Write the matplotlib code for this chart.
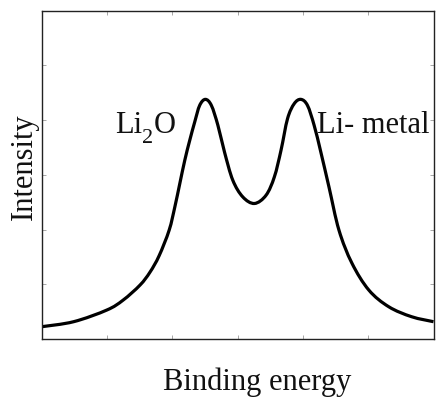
import matplotlib
matplotlib.use("Agg")
import matplotlib.pyplot as plt
from matplotlib.path import Path
from matplotlib.patches import PathPatch

# (arbitrary units; axes span 0..6 in both directions)
binding_energy = [0.00, 0.492, 1.000, 1.249, 1.508, 1.660, 1.800, 1.954, 2.041, 2.117,
                  2.193, 2.269, 2.345, 2.421, 2.508, 2.600, 2.700, 2.802, 2.928, 3.081,
                  3.259, 3.437, 3.564, 3.666, 3.766, 3.868, 3.970, 4.071, 4.173, 4.275,
                  4.401, 4.553, 4.751, 5.010, 5.315, 5.665, 6.000]
intensity = [0.224, 0.316, 0.529, 0.710, 0.985, 1.220, 1.520, 1.988, 2.413, 2.840,
             3.264, 3.629, 3.963, 4.267, 4.377, 4.267, 3.903, 3.410, 2.900, 2.595,
             2.475, 2.626, 2.960, 3.447, 4.025, 4.298, 4.377, 4.267, 3.903, 3.416,
             2.772, 1.988, 1.386, 0.894, 0.589, 0.407, 0.316]
tick_positions = [1, 2, 3, 4, 5]
label_x = [1.13, 4.22]
label_y = [3.76, 3.76]

plt.rcParams["font.family"] = ["Liberation Serif", "DejaVu Serif"]

fig = plt.figure(figsize=(4.36, 3.97), dpi=100)
ax = fig.add_axes([41.5 / 436, (397 - 339) / 397, (433.5 - 41.5) / 436, (339 - 10.5) / 397])
ax.set_xlim(0, 6)
ax.set_ylim(0, 6)

# smooth line through the read points (Catmull-Rom as cubic Bezier segments)
pts = list(zip(binding_energy, intensity))
verts = [pts[0]]
codes = [Path.MOVETO]
n = len(pts)
for i in range(n - 1):
    p0 = pts[i - 1] if i > 0 else pts[i]
    p1 = pts[i]
    p2 = pts[i + 1]
    p3 = pts[i + 2] if i + 2 < n else pts[i + 1]
    c1 = (p1[0] + (p2[0] - p0[0]) / 6, p1[1] + (p2[1] - p0[1]) / 6)
    c2 = (p2[0] - (p3[0] - p1[0]) / 6, p2[1] - (p3[1] - p1[1]) / 6)
    verts += [c1, c2, p2]
    codes += [Path.CURVE4] * 3
ax.add_patch(PathPatch(Path(verts, codes), facecolor="none", edgecolor="black",
                       lw=2.3, capstyle="butt", joinstyle="round"))

ax.set_xticks(tick_positions)
ax.set_yticks(tick_positions)
ax.set_xticklabels([])
ax.set_yticklabels([])
ax.tick_params(direction="in", length=3, width=0.6, color="#999999",
               top=True, right=True, bottom=True, left=True)
for s in ax.spines.values():
    s.set_linewidth(1.0)
    s.set_color("#222222")

fs = 22
tc = "#111111"
# "Li2O" with a lowered subscript, built from pieces
renderer = fig.canvas.get_renderer()
inv = fig.transFigure.inverted()
t1 = ax.text(label_x[0], label_y[0], "Li", fontsize=fs, ha="left", va="baseline", color=tc)
bb = t1.get_window_extent(renderer)
y_disp = ax.transData.transform((label_x[0], label_y[0]))[1]
fx, fy = inv.transform((bb.x1, y_disp - 10))
t2 = fig.text(fx, fy, "2", fontsize=16, ha="left", va="baseline", color=tc)
bb2 = t2.get_window_extent(renderer)
fx, fy = inv.transform((bb2.x1, y_disp))
fig.text(fx, fy, "O", fontsize=fs, ha="left", va="baseline", color=tc)

ax.text(label_x[1], label_y[1], "Li- metal", fontsize=fs, ha="left", va="baseline", color=tc)

fig.text(257.5 / 436, (397 - 390) / 397, "Binding energy", fontsize=fs,
         ha="center", va="baseline", color=tc)
fig.text(24 / 436, (397 - 167) / 397, "Intensity", fontsize=fs, rotation=90,
         ha="center", va="center", color=tc)

fig.savefig("out.png", dpi=100)
